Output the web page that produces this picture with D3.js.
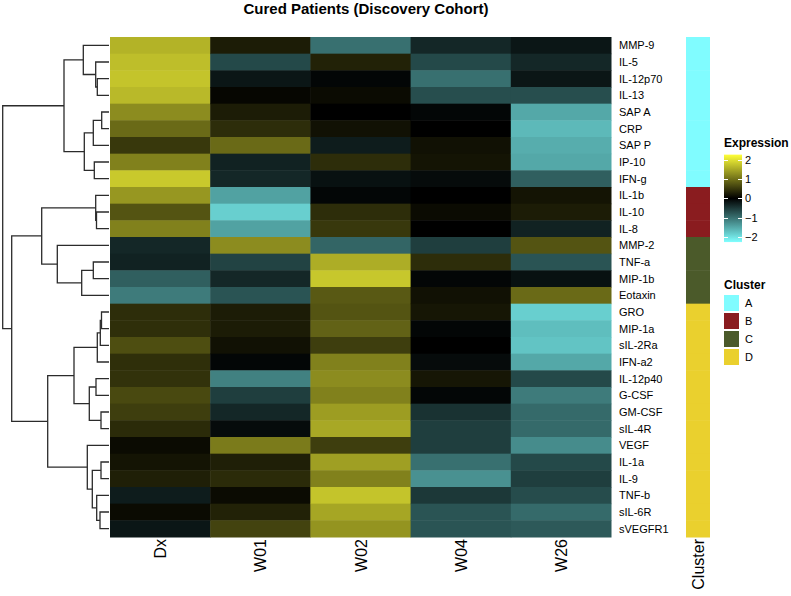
<!DOCTYPE html>
<html>
<head>
<meta charset="utf-8">
<script src="https://cdn.jsdelivr.net/npm/d3@7"></script>
<style>
  body { margin: 0; background: #fff; }
  svg { font-family: "Liberation Sans", Arial, sans-serif; }
</style>
</head>
<body>
<svg width="791" height="596"></svg>
<script>
var rowLabels = ["MMP-9","IL-5","IL-12p70","IL-13","SAP A","CRP","SAP P","IP-10","IFN-g",
  "IL-1b","IL-10","IL-8","MMP-2","TNF-a","MIP-1b","Eotaxin","GRO","MIP-1a","sIL-2Ra",
  "IFN-a2","IL-12p40","G-CSF","GM-CSF","sIL-4R","VEGF","IL-1a","IL-9","TNF-b","sIL-6R","sVEGFR1"];
var colLabels = ["Dx", "W01", "W02", "W04", "W26"];

var dx  = [1.6,1.7,1.75,1.65,1.25,0.95,0.5,1.15,1.8,1.35,0.75,1.15,-0.35,-0.3,-0.85,-1.1,0.4,0.42,0.7,0.42,0.45,0.65,0.55,0.38,0.1,0.18,0.28,-0.25,0.1,-0.2];
var w01 = [0.25,-0.65,-0.2,0.05,0.25,0.4,0.95,-0.3,-0.35,-1.45,-1.85,-1.45,1.25,-0.6,-0.35,-0.75,0.25,0.25,0.15,-0.05,-1.15,-0.55,-0.35,-0.1,1.1,0.28,0.38,0.1,0.3,0.6];
var w02 = [-1.0,0.3,-0.05,0.1,0,0.15,-0.25,0.4,-0.15,-0.05,0.4,0.5,-0.9,1.55,1.78,0.8,0.75,0.88,0.55,1.15,1.25,1.15,1.4,1.5,0.55,1.42,1.15,1.75,1.48,1.32];
var w04 = [-0.35,-0.65,-1.0,-0.7,-0.05,0,0.15,0.18,-0.1,0,0.1,0,-0.55,0.4,-0.05,0.15,0.2,-0.05,0,-0.1,0.2,-0.05,-0.45,-0.55,-0.55,-1.0,-1.3,-0.5,-0.75,-0.75];
var w26 = [-0.2,-0.35,-0.2,-0.7,-1.5,-1.65,-1.55,-1.5,-0.85,0.18,0.25,-0.3,0.75,-0.75,-0.15,0.95,-1.85,-1.7,-1.75,-1.5,-0.65,-1.1,-0.95,-0.95,-1.25,-0.65,-0.55,-0.68,-0.95,-0.8];

var clusters = ["A","A","A","A","A","A","A","A","A","B","B","B","C","C","C","C",
  "D","D","D","D","D","D","D","D","D","D","D","D","D","D"];
var clusterNames = ["A", "B", "C", "D"];
var clusterColors = ["#80fcff", "#8a1c1f", "#4b5a2a", "#ead02e"];

var legendTicks = [-2, -1, 0, 1, 2];

// row dendrogram: [height, left, right], leaves are row indexes
var treeA  = [45, [25.7, 0, [13.3, 1, [11.7, 2, 3]]], [24.7, [15.7, [7.3, 4, 5], 6], [14.7, 7, 8]]];
var treeBC = [67.3, [13.3, 9, [12.5, 10, 11]], [51.7, 12, [27.3, [15.7, 13, 14], 15]]];
var treeD1 = [35, [11.7, [8.7, [7.5, 16, 17], 18], 19], [19.7, [13, 20, 21], [8, 22, 23]]];
var treeD2 = [21.7, 24, [16.7, [8, 25, 26], [12.3, 27, [9, 28, 29]]]];
var tree   = [106.3, treeA, [97.3, treeBC, [61.3, treeD1, treeD2]]];

var svg = d3.select("svg"),
    hmLeft = 110, hmRight = 611, hmTop = 37, hmBottom = 537;

var x = d3.scaleBand().domain(colLabels).range([hmLeft, hmRight]);
var y = d3.scaleBand().domain(rowLabels).range([hmTop, hmBottom]);

var color = d3.scaleLinear()
    .domain([-2.28, 0, 2.28])
    .range(["#80ffff", "#000000", "#ffff38"])
    .clamp(true);

var series = [dx, w01, w02, w04, w26];
var cells = [];
series.forEach(function(s, j) {
  s.forEach(function(v, i) { cells.push({row: rowLabels[i], col: colLabels[j], v: v}); });
});

svg.append("g").selectAll("rect")
  .data(cells)
  .enter().append("rect")
    .attr("x", function(d) { return x(d.col); })
    .attr("y", function(d) { return y(d.row); })
    .attr("width", x.bandwidth() + 0.5)
    .attr("height", y.bandwidth() + 0.5)
    .attr("fill", function(d) { return color(d.v); });

// title
svg.append("text")
    .attr("x", 366)
    .attr("y", 14)
    .attr("text-anchor", "middle")
    .style("font-size", "15px")
    .style("font-weight", "bold")
    .text("Cured Patients (Discovery Cohort)");

// row labels
svg.append("g").selectAll("text")
  .data(rowLabels)
  .enter().append("text")
    .attr("x", hmRight + 8)
    .attr("y", function(d) { return y(d) + y.bandwidth() / 2; })
    .attr("dy", "0.35em")
    .style("font-size", "11px")
    .text(function(d) { return d; });

// column labels
var colText = colLabels.map(function(c) { return {t: c, cx: x(c) + x.bandwidth() / 2}; });
colText.push({t: "Cluster", cx: 698});
svg.append("g").selectAll("text")
  .data(colText)
  .enter().append("text")
    .attr("transform", function(d) { return "translate(" + (d.cx + 6) + "," + (hmBottom + 2) + ") rotate(-90)"; })
    .attr("text-anchor", "end")
    .style("font-size", "16px")
    .text(function(d) { return d.t; });

// cluster bar
svg.append("g").selectAll("rect")
  .data(clusters)
  .enter().append("rect")
    .attr("x", 686)
    .attr("y", function(d, i) { return y(rowLabels[i]); })
    .attr("width", 24)
    .attr("height", y.bandwidth() + 0.5)
    .attr("fill", function(d) { return clusterColors[clusterNames.indexOf(d)]; });

// dendrogram
var root = d3.hierarchy(tree, function(d) { return Array.isArray(d) ? d.slice(1) : null; });
var hx = d3.scaleLinear().domain([0, 106.3]).range([109, 2.7]);
root.eachAfter(function(n) {
  if (n.children) {
    n.py = d3.mean(n.children, function(c) { return c.py; });
    n.px = hx(n.data[0]);
  } else {
    n.py = y(rowLabels[n.data]) + y.bandwidth() / 2;
    n.px = hx(0);
  }
});

var dendro = svg.append("g")
    .attr("fill", "none")
    .attr("stroke", "#2b2b2b")
    .attr("stroke-width", 1.3);

dendro.selectAll("path")
  .data(root.descendants().filter(function(n) { return n.children; }))
  .enter().append("path")
    .attr("d", function(n) {
      var a = n.children[0], b = n.children[1];
      return "M" + a.px + "," + a.py + "H" + n.px + "V" + b.py + "H" + b.px;
    });

// expression legend
var lg = svg.append("g");
lg.append("text")
    .attr("x", 724).attr("y", 147)
    .style("font-size", "12px").style("font-weight", "bold")
    .text("Expression");

var ly = d3.scaleLinear().domain([-2, 2]).range([236.7, 160]);
var defs = svg.append("defs");
var grad = defs.append("linearGradient")
    .attr("id", "expr").attr("x1", 0).attr("y1", 1).attr("x2", 0).attr("y2", 0);
d3.range(0, 1.0001, 0.1).forEach(function(t) {
  grad.append("stop")
      .attr("offset", t)
      .attr("stop-color", color(-2.28 + t * 4.56));
});
lg.append("rect")
    .attr("x", 724).attr("y", ly(2.28))
    .attr("width", 18).attr("height", ly(-2.28) - ly(2.28))
    .attr("fill", "url(#expr)");

lg.selectAll(".tk")
  .data(legendTicks)
  .enter().append("path")
    .attr("class", "tk")
    .attr("stroke", "#fff")
    .attr("stroke-width", 1)
    .attr("d", function(d) { var yy = Math.round(ly(d)) + 0.5; return "M724," + yy + "h4M738," + yy + "h4"; });

lg.append("g")
    .attr("transform", "translate(742,0)")
    .call(d3.axisRight(ly).tickValues(legendTicks).tickFormat(d3.format("d")).tickSize(0).tickPadding(3))
    .call(function(g) { g.select(".domain").remove(); })
    .selectAll("text")
    .style("font-size", "11px")
    .style("font-family", "Liberation Sans, Arial, sans-serif")
    .attr("fill", "#000");

// cluster legend
var cg = svg.append("g");
cg.append("text")
    .attr("x", 724).attr("y", 289)
    .style("font-size", "12px").style("font-weight", "bold")
    .text("Cluster");

var ck = cg.selectAll(".ck")
  .data(clusterNames)
  .enter().append("g")
    .attr("class", "ck")
    .attr("transform", function(d, i) { return "translate(724," + (295 + i * 18) + ")"; });

ck.append("rect")
    .attr("width", 15).attr("height", 16)
    .attr("fill", function(d, i) { return clusterColors[i]; });

ck.append("text")
    .attr("x", 21).attr("y", 8).attr("dy", "0.35em")
    .style("font-size", "11px")
    .text(function(d) { return d; });
</script>
</body>
</html>
